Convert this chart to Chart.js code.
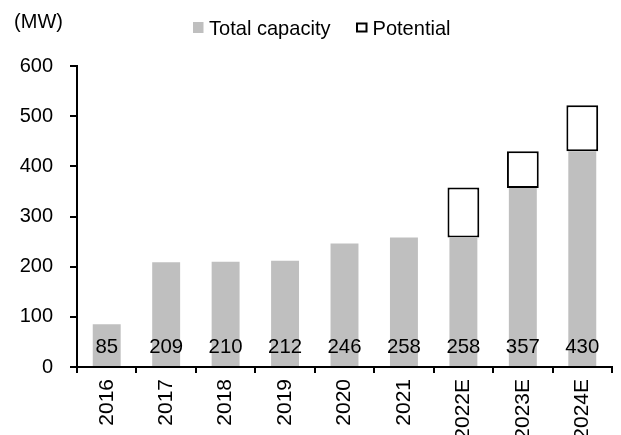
<!DOCTYPE html>
<html>
<head>
<meta charset="utf-8">
<script src="https://cdn.jsdelivr.net/npm/chart.js@4/dist/chart.umd.min.js"></script>
<style>
  html, body { margin: 0; padding: 0; background: #fff; }
  #wrap { width: 621px; height: 435px; position: relative; }
</style>
</head>
<body>
<div id="wrap"><canvas id="c" width="621" height="435"></canvas></div>
<script>
const categories = ['2016', '2017', '2018', '2019', '2020', '2021', '2022E', '2023E', '2024E'];
const totalCapacity = [85, 209, 210, 212, 246, 258, 258, 357, 430];
const potential = [null, null, null, null, null, null, 100, 73, 92];
const yTicks = [0, 100, 200, 300, 400, 500, 600];
const unitLabel = '(MW)';
const seriesNames = ['Total capacity', 'Potential'];

const FONT = '"Liberation Sans", Arial, sans-serif';
const GRAY = '#BFBFBF';

function condensedText(ctx, text, x, y, sx) {
  ctx.save();
  ctx.translate(x, y);
  ctx.scale(sx, 1);
  ctx.fillText(text, 0, 0);
  ctx.restore();
}

const overlay = {
  id: 'overlay',
  afterDatasetsDraw(chart) {
    const ctx = chart.ctx;
    const y = chart.scales.y;
    const meta = chart.getDatasetMeta(0);
    ctx.save();
    ctx.fillStyle = '#000';
    ctx.font = '21px ' + FONT;
    ctx.textAlign = 'center';
    ctx.textBaseline = 'alphabetic';
    const base = y.getPixelForValue(0) - 14;
    meta.data.forEach((bar, i) => {
      condensedText(ctx, String(totalCapacity[i]), bar.x, base, 0.97);
    });
    ctx.restore();
  },
  afterDraw(chart) {
    const ctx = chart.ctx;
    ctx.save();
    ctx.fillStyle = '#000';
    ctx.font = '20px ' + FONT;
    // unit label
    ctx.textAlign = 'center';
    ctx.textBaseline = 'middle';
    ctx.fillText(unitLabel, 38.5, 22);
    // legend
    ctx.font = '21px ' + FONT;
    ctx.textAlign = 'left';
    ctx.textBaseline = 'alphabetic';
    ctx.fillStyle = GRAY;
    ctx.fillRect(193, 22, 10.5, 11);
    ctx.fillStyle = '#000';
    condensedText(ctx, seriesNames[0], 209, 35, 0.955);
    ctx.strokeStyle = '#000';
    ctx.lineWidth = 2;
    ctx.strokeRect(357, 23.5, 9.5, 8);
    condensedText(ctx, seriesNames[1], 372.5, 35, 0.955);
    ctx.restore();
  }
};

new Chart(document.getElementById('c'), {
  type: 'bar',
  data: {
    labels: categories,
    datasets: [
      {
        label: seriesNames[0],
        data: totalCapacity,
        backgroundColor: GRAY,
        borderWidth: 0,
        barPercentage: 0.47,
        categoryPercentage: 1
      },
      {
        label: seriesNames[1],
        data: potential,
        backgroundColor: '#FFFFFF',
        borderColor: '#000000',
        borderWidth: 2,
        borderSkipped: false,
        barPercentage: 0.535,
        categoryPercentage: 1
      }
    ]
  },
  options: {
    responsive: false,
    animation: false,
    devicePixelRatio: 1,
    layout: { padding: { top: 66, right: 9, left: 0, bottom: 0 } },
    plugins: {
      legend: { display: false },
      tooltip: { enabled: false },
      title: { display: false }
    },
    scales: {
      x: {
        stacked: true,
        offset: true,
        afterFit(scale) { scale.height = 68; },
        border: { display: true, color: '#000', width: 2 },
        grid: {
          display: true,
          offset: true,
          drawOnChartArea: false,
          drawTicks: true,
          tickLength: 6,
          color: '#000',
          lineWidth: 2
        },
        ticks: {
          autoSkip: false,
          maxRotation: 90,
          minRotation: 90,
          padding: 6,
          color: '#000',
          font: { family: FONT, size: 21 }
        }
      },
      y: {
        stacked: true,
        min: 0,
        max: 600,
        afterFit(scale) { scale.width = 77; },
        afterBuildTicks(scale) { scale.ticks = yTicks.map(v => ({ value: v })); },
        border: { display: true, color: '#000', width: 2 },
        grid: {
          display: true,
          drawOnChartArea: false,
          drawTicks: true,
          tickLength: 7,
          color: '#000',
          lineWidth: 2
        },
        ticks: {
          padding: 17,
          color: '#000',
          font: { family: FONT, size: 20 }
        }
      }
    }
  },
  plugins: [overlay]
});
</script>
</body>
</html>
